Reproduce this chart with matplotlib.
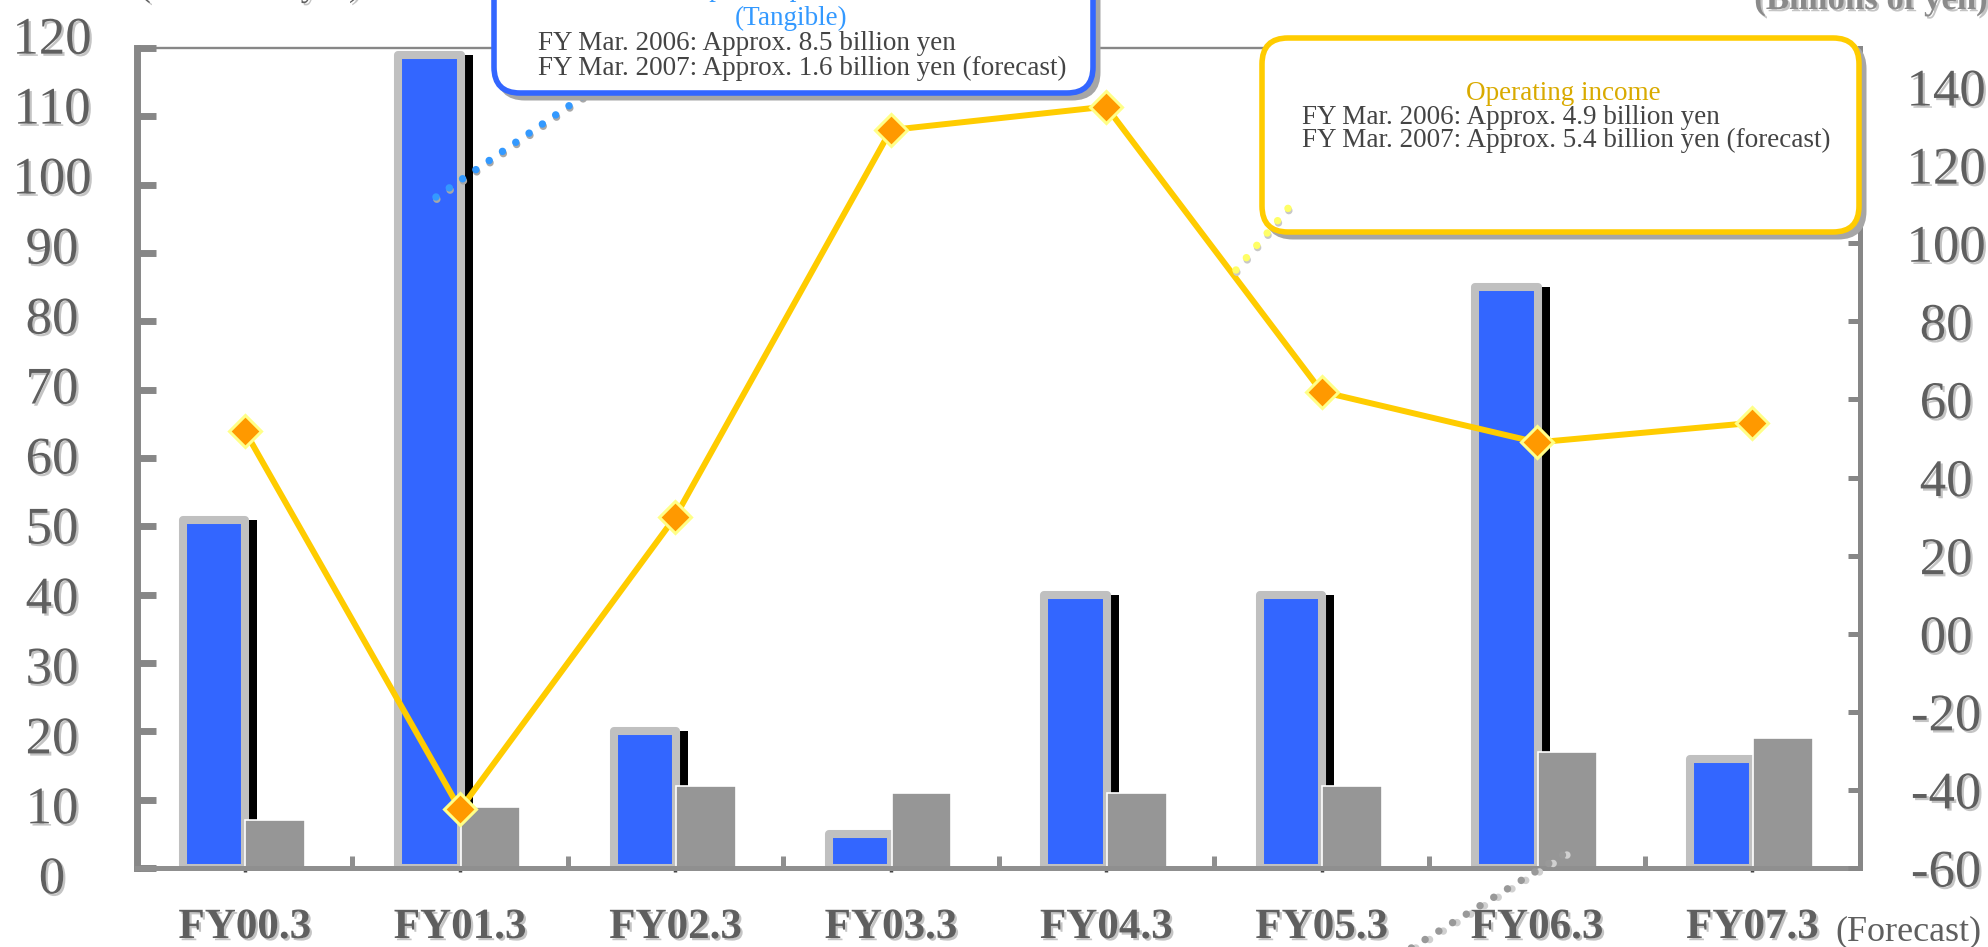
import matplotlib
matplotlib.use("Agg")
import matplotlib.pyplot as plt
import numpy as np
from matplotlib import patheffects as pe
from matplotlib.patches import FancyBboxPatch
from matplotlib.lines import Line2D
from matplotlib.transforms import blended_transform_factory

# ---- data -------------------------------------------------------------
categories = ["FY00.3", "FY01.3", "FY02.3", "FY03.3", "FY04.3", "FY05.3", "FY06.3", "FY07.3"]
capex_tangible = [51, 119, 20, 5, 40, 40, 85, 16]        # left axis (100 million yen)
depreciation = [7, 9, 12, 11, 11, 12, 17, 19]            # left axis (100 million yen)
operating_income = [52, -45, 30, 129, 135, 62, 49, 54]   # right axis (100 million yen)

left_ticks = [0, 10, 20, 30, 40, 50, 60, 70, 80, 90, 100, 110, 120]
right_ticks = [-60, -40, -20, 0, 20, 40, 60, 80, 100, 120, 140]
right_tick_labels = ["-60", "-40", "-20", "00", "20", "40", "60", "80", "100", "120", "140"]

capex_note = ["Capital expenditures", "(Tangible)",
              "FY Mar. 2006: Approx. 8.5 billion yen",
              "FY Mar. 2007: Approx. 1.6 billion yen (forecast)"]
income_note = ["Operating income",
               "FY Mar. 2006: Approx. 4.9 billion yen",
               "FY Mar. 2007: Approx. 5.4 billion yen (forecast)"]

# ---- style ------------------------------------------------------------
W, H = 1988, 947
SERIF = "Liberation Serif"
LABEL_GRAY = "#5f5f5f"
AXIS_GRAY = "#878787"
shadow = [pe.withSimplePatchShadow(offset=(1.6, -1.6), shadow_rgbFace="#c4c4c4", alpha=1.0)]

fig = plt.figure(figsize=(W / 100, H / 100), dpi=100)
fig.patch.set_facecolor("white")

# main plotting area in pixel terms: x 137..1860, y 48..868
ax = fig.add_axes([137 / W, (H - 868) / H, (1860 - 137) / W, (868 - 48) / H])
ax.set_xlim(-0.5, len(categories) - 0.5)
ax.set_ylim(0, 120)
ax.set_facecolor("none")

x = np.arange(len(categories))

# dark side strip giving the capex bars a 3D look
ax.bar(x + 0.040, capex_tangible, width=0.037, color="black", zorder=2)
# capex bars (blue with thick light-gray rounded border)
ax.bar(x - 0.142, capex_tangible, width=0.29, color="#3366ff", edgecolor="#c0c0c0",
       linewidth=5.8, joinstyle="round", zorder=3)
# depreciation bars
ax.bar(x + 0.142, depreciation, width=0.277, color="#969696", edgecolor="white",
       linewidth=1.2, zorder=4)

# spines
for side in ["left", "bottom", "top", "right"]:
    ax.spines[side].set_zorder(10)
ax.spines["left"].set_color(AXIS_GRAY)
ax.spines["left"].set_linewidth(5)
ax.spines["bottom"].set_color("#8f8f8f")
ax.spines["bottom"].set_linewidth(3.6)
ax.spines["top"].set_color(AXIS_GRAY)
ax.spines["top"].set_linewidth(1.7)
ax.spines["right"].set_visible(False)

# left ticks (labels drawn separately below)
ax.set_yticks(left_ticks)
ax.tick_params(axis="y", direction="in", length=14, width=5, color=AXIS_GRAY,
               labelleft=False)
# category boundaries as upward stubs, small dark marks under each category
ax.set_xticks(x[:-1] + 0.5)
ax.set_xticks(x, minor=True)
ax.tick_params(axis="x", which="major", direction="in", length=9, width=3.6,
               color="#8f8f8f", labelbottom=False)
ax.tick_params(axis="x", which="minor", direction="out", length=3, width=2.5,
               color="#444444", labelbottom=False)

# left axis labels
ytrans = blended_transform_factory(ax.transAxes, ax.transData)
for v in left_ticks:
    ax.text((52 - 137) / (1860 - 137), v * 1.024 - 1.0, str(v), transform=ytrans,
            ha="center", va="center_baseline", fontsize=38, family=SERIF,
            color=LABEL_GRAY, path_effects=shadow)

# category labels
xtrans = blended_transform_factory(ax.transData, ax.transAxes)
for i, name in enumerate(categories):
    ax.text(i, (868 - 928) / 820, name, transform=xtrans, ha="center", va="center",
            fontsize=31, fontweight="bold", family=SERIF, color=LABEL_GRAY,
            path_effects=shadow)

# ---- right axis: operating income ---------------------------------------
ax2 = ax.twinx()
ax2.set_ylim(-60, 150)
for side in ["left", "bottom", "top"]:
    ax2.spines[side].set_visible(False)
ax2.spines["right"].set_color(AXIS_GRAY)
ax2.spines["right"].set_linewidth(3.6)
ax2.spines["right"].set_zorder(10)
ax2.set_yticks(right_ticks, labels=right_tick_labels)
ax2.tick_params(axis="y", direction="in", length=9, width=3.6, color=AXIS_GRAY,
                pad=62, labelsize=38, labelcolor=LABEL_GRAY)
for lbl in ax2.get_yticklabels():
    lbl.set_horizontalalignment("center")
    lbl.set_family(SERIF)
    lbl.set_path_effects(shadow)

ax2.plot(x, operating_income, color="#ffcc00", linewidth=4.3, marker="D",
         markersize=16, markerfacecolor="#ff9900", markeredgecolor="#ffff88",
         markeredgewidth=2.2, zorder=5)

# ---- overlay in pixel coordinates for notes ------------------------------
ov = fig.add_axes([0, 0, 1, 1], zorder=20)
ov.set_xlim(0, W)
ov.set_ylim(H, 0)
ov.axis("off")
ov.patch.set_alpha(0)

def dotted(x0, y0, x1, y1, color, shadow_color="#a8a8a8", z=1):
    ln = Line2D([x0, x1], [y0, y1], color=color, linewidth=5.4,
                linestyle=(0, (0.0001, 2.15)), dash_capstyle="round", zorder=z,
                path_effects=[pe.SimpleLineShadow(offset=(0.6, -1.6),
                                                  shadow_color=shadow_color, alpha=1.0),
                              pe.Normal()])
    ov.add_line(ln)

dotted(436, 197, 592, 90, "#3399ff")
dotted(1236, 270, 1290, 206, "#ffff66", shadow_color="#c8c8c8", z=5)
dotted(1400, 955, 1569, 851, "#999999", shadow_color="#d0d0d0")

def note_box(x0, y0, w, h, edge):
    ov.add_patch(FancyBboxPatch((x0 + 5, y0 + 5), w, h,
                                boxstyle="round,pad=0,rounding_size=26",
                                facecolor="#a6a6a6", edgecolor="#a6a6a6",
                                linewidth=3.6, zorder=2))
    ov.add_patch(FancyBboxPatch((x0, y0), w, h,
                                boxstyle="round,pad=0,rounding_size=26",
                                facecolor="white", edgecolor=edge,
                                linewidth=4.0, zorder=3))

note_box(494, -60, 599, 153, "#3366ff")
note_box(1262, 38, 597, 194, "#ffcc00")

TXT = "#444444"
FS = 19.5
ov.text(791, -11, capex_note[0], ha="center", va="center", fontsize=FS,
        family=SERIF, color="#3399ff", zorder=4)
ov.text(791, 18, capex_note[1], ha="center", va="center", fontsize=FS,
        family=SERIF, color="#3399ff", zorder=4)
ov.text(538, 43, capex_note[2], ha="left", va="center", fontsize=FS,
        family=SERIF, color=TXT, zorder=4)
ov.text(538, 68, capex_note[3], ha="left", va="center", fontsize=FS,
        family=SERIF, color=TXT, zorder=4)

ov.text(1563, 93, income_note[0], ha="center", va="center", fontsize=FS,
        family=SERIF, color="#d9aa00", zorder=4)
ov.text(1302, 117, income_note[1], ha="left", va="center", fontsize=FS,
        family=SERIF, color=TXT, zorder=4)
ov.text(1302, 140, income_note[2], ha="left", va="center", fontsize=FS,
        family=SERIF, color=TXT, zorder=4)

# unit captions (partly beyond the top edge) and forecast marker
ov.text(250, -4, "(Billions of yen)", ha="center", va="baseline", fontsize=24,
        family=SERIF, color=LABEL_GRAY, path_effects=shadow)
ov.text(1871, 9, "(Billions of yen)", ha="center", va="baseline", fontsize=25,
        fontweight="bold", family=SERIF, color="#8a8a8a", path_effects=shadow)
ov.text(1908, 932, "(Forecast)", ha="center", va="center", fontsize=26,
        family=SERIF, color=LABEL_GRAY)

fig.savefig("out.png", dpi=100)
